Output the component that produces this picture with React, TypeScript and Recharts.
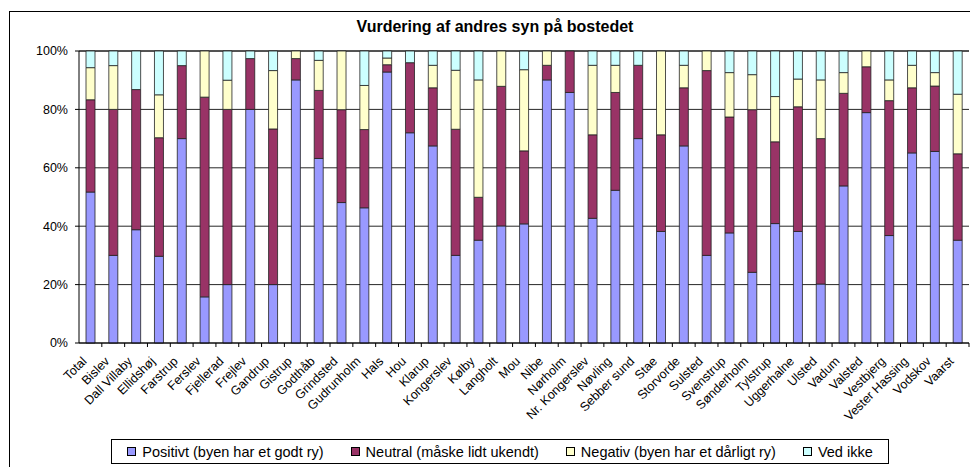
import React from 'react';
import { BarChart, Bar, XAxis, YAxis, CartesianGrid } from 'recharts';

// Kategorier (bosteder)
const places = [
  'Total', 'Bislev', 'Dall Villaby', 'Ellidshøj', 'Farstrup', 'Ferslev', 'Fjellerad', 'Frejlev',
  'Gandrup', 'Gistrup', 'Godthåb', 'Grindsted', 'Gudrunholm', 'Hals', 'Hou', 'Klarup',
  'Kongerslev', 'Kølby', 'Langholt', 'Mou', 'Nibe', 'Nørholm', 'Nr. Kongerslev', 'Nøvling',
  'Sebber sund', 'Stae', 'Storvorde', 'Sulsted', 'Svenstrup', 'Sønderholm', 'Tylstrup',
  'Uggerhalne', 'Ulsted', 'Vadum', 'Valsted', 'Vestbjerg', 'Vester Hassing', 'Vodskov', 'Vaarst',
];

// Andele i procent
const positivt = [
  51.7, 30, 38.8, 29.7, 70, 15.8, 20, 80, 20, 90.1, 63.2, 48.1, 46.3, 92.8, 72, 67.5,
  30, 35.2, 40.1, 40.8, 90.1, 85.8, 42.7, 52.3, 70, 38.2, 67.5, 30, 37.7, 24.2, 40.9,
  38.2, 20.2, 53.8, 78.9, 36.8, 65.1, 65.6, 35.2,
];
const neutral = [
  31.6, 50, 48, 40.6, 25, 68.4, 60, 17.4, 53.3, 7.3, 23.3, 31.8, 26.8, 2.5, 24, 19.9,
  43.2, 14.7, 47.8, 25, 5, 14.2, 28.6, 33.5, 25.1, 33.1, 19.9, 63.3, 39.7, 55.7, 28,
  42.7, 49.8, 31.7, 15.7, 46.2, 22.3, 22.4, 29.6,
];
const negativ = [
  11, 15, 0, 14.7, 0, 15.8, 10, 0, 20, 2.6, 10.3, 20.1, 15.1, 2.3, 0, 7.7,
  20.2, 40.2, 12.1, 27.8, 4.9, 0, 23.8, 9.3, 0, 28.7, 7.7, 6.7, 15.2, 12, 15.5,
  9.5, 20.1, 7.1, 5.4, 7.1, 7.7, 4.6, 20.4,
];
const vedIkke = [
  5.7, 5, 13.2, 15, 5, 0, 10, 2.6, 6.7, 0, 3.2, 0, 11.8, 2.4, 4, 4.9,
  6.6, 9.9, 0, 6.4, 0, 0, 4.9, 4.9, 4.9, 0, 4.9, 0, 7.4, 8.1, 15.6,
  9.6, 9.9, 7.4, 0, 9.9, 4.9, 7.4, 14.8,
];
const yTicks = [0, 20, 40, 60, 80, 100];

const series = [
  { key: 'positivt', name: 'Positivt (byen har et godt ry)', color: '#9999FF' },
  { key: 'neutral', name: 'Neutral (måske lidt ukendt)', color: '#993366' },
  { key: 'negativ', name: 'Negativ (byen har et dårligt ry)', color: '#FFFFCC' },
  { key: 'vedIkke', name: 'Ved ikke', color: '#CCFFFF' },
];

const data = places.map((name, i) => ({
  name,
  positivt: positivt[i],
  neutral: neutral[i],
  negativ: negativ[i],
  vedIkke: vedIkke[i],
}));

const FONT = '"Liberation Sans", Arial, sans-serif';
const PLOT_W = 890;
const BAND = PLOT_W / places.length;

// Excel-style: tick mark between categories, label rotated 45°
const XTick = ({ x, y, payload }: any) => {
  const ax = x - 3;
  const ay = y + 19;
  return (
    <g>
      <line x1={x + BAND / 2} x2={x + BAND / 2} y1={y} y2={y + 4} stroke="#000" />
      <text
        x={ax}
        y={ay}
        textAnchor="end"
        fontSize={12.5}
        fontFamily={FONT}
        fill="#000"
        transform={`rotate(-45 ${ax} ${ay})`}
      >
        {payload.value}
      </text>
    </g>
  );
};

export default function App() {
  return (
    <div style={{ position: 'absolute', left: 0, top: 0, width: 970, height: 467, overflow: 'hidden', background: '#fff' }}>
      <div style={{ position: 'absolute', left: 9, top: 11, width: 1000, height: 500, border: '1px solid #000' }} />
      <div
        style={{
          position: 'absolute', left: 0, top: 18, width: 990, textAlign: 'center',
          fontFamily: FONT, fontWeight: 'bold', fontSize: 16, color: '#000',
        }}
      >
        Vurdering af andres syn på bostedet
      </div>
      <div style={{ position: 'absolute', left: 0, top: 0 }}>
        <BarChart width={970} height={467} data={data} margin={{ top: 51, right: 1, bottom: 34, left: 0 }} barSize={9}>
          <CartesianGrid vertical={false} stroke="#000" strokeOpacity={0.85} />
          <XAxis
            dataKey="name"
            interval={0}
            height={90}
            tickSize={0}
            tickMargin={0}
            axisLine={{ stroke: '#000' }}
            tick={<XTick />}
          />
          <YAxis
            width={79}
            domain={[0, 100]}
            ticks={yTicks}
            tickFormatter={(v: number) => `${v}%`}
            tickSize={4}
            tickMargin={7}
            axisLine={{ stroke: '#000' }}
            tickLine={{ stroke: '#000' }}
            tick={{ fontSize: 12.5, fontFamily: FONT, fill: '#000' }}
          />
          {series.map((s) => (
            <Bar
              key={s.key}
              dataKey={s.key}
              name={s.name}
              stackId="a"
              fill={s.color}
              stroke="#222"
              strokeWidth={0.8}
              isAnimationActive={false}
            />
          ))}
        </BarChart>
      </div>
      <div
        style={{
          position: 'absolute', left: 111, top: 439, width: 776, height: 23,
          border: '1px solid #000', display: 'flex', alignItems: 'center', justifyContent: 'center',
          gap: 27, fontFamily: FONT, fontSize: 14.5, color: '#000',
        }}
      >
        {series.map((s) => (
          <div key={s.key} style={{ display: 'flex', alignItems: 'center', gap: 6 }}>
            <span style={{ display: 'inline-block', width: 7, height: 7, background: s.color, border: '1px solid #000' }} />
            <span>{s.name}</span>
          </div>
        ))}
      </div>
    </div>
  );
}
